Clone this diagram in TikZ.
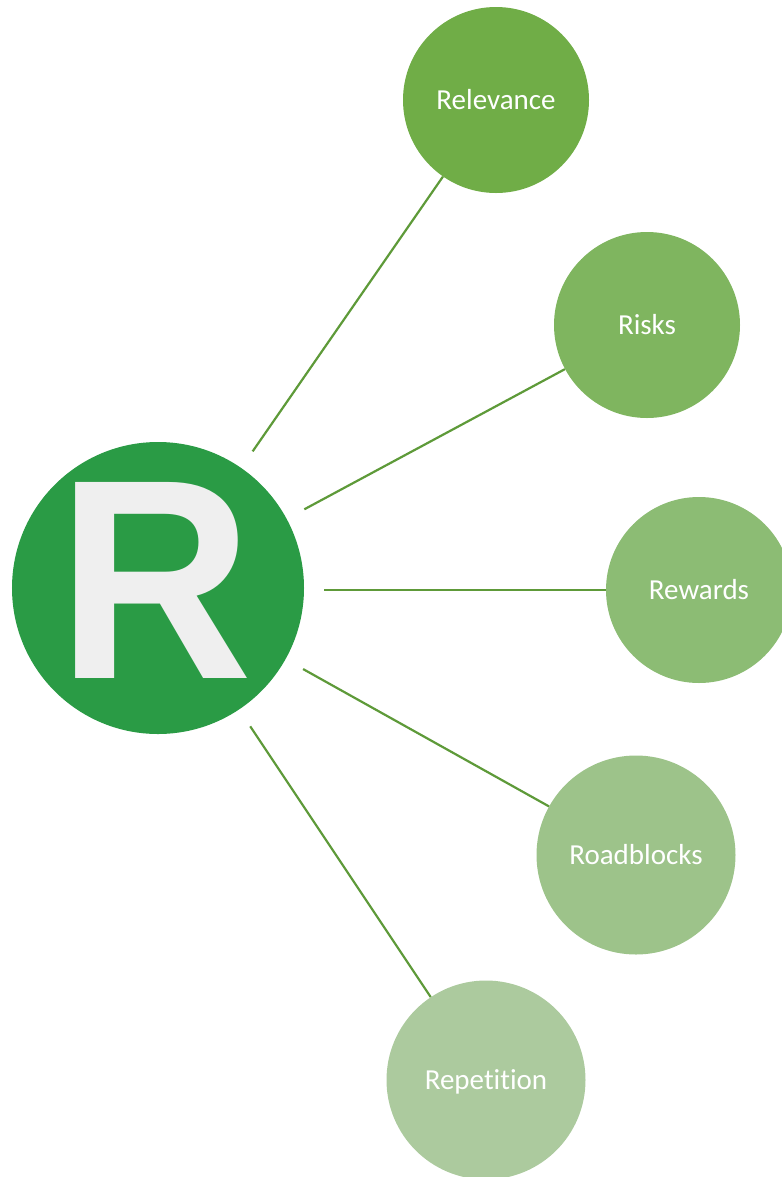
\documentclass[tikz,border=0pt]{standalone}
\usepackage{fontspec}
\setmainfont[Ligatures=NoCommon]{Carlito}
\newfontfamily\letterfont{Liberation Sans}
\usetikzlibrary{positioning}

\definecolor{hubgreen}{RGB}{42,155,69}
\definecolor{spokegreen}{RGB}{94,154,57}
\definecolor{greenA}{RGB}{112,173,71}
\definecolor{greenB}{RGB}{127,181,95}
\definecolor{greenC}{RGB}{140,188,116}
\definecolor{greenD}{RGB}{157,195,138}
\definecolor{greenE}{RGB}{172,202,158}
\definecolor{letter}{RGB}{239,239,239}

\begin{document}
\begin{tikzpicture}[x=1bp,y=-1bp,
  hub/.style={circle,fill=hubgreen,minimum size=292bp,inner sep=0pt},
  leaf/.style={circle,minimum size=186bp,inner sep=0pt,text=white,
    font=\fontsize{29bp}{32bp}\selectfont,text height=18.7bp,text depth=0pt},
  bigleaf/.style={leaf,minimum size=199bp},
  spoke/.style={spokegreen,line width=2.2bp,shorten <=20bp}]
\useasboundingbox (0,0) rectangle (782,1177);
\node [hub] (hub) at (158,588) {};
\node [text=letter,inner sep=0pt,xscale=0.95,
  font=\letterfont\bfseries\fontsize{285bp}{285bp}\selectfont]
  (letterR) at (155.5,580.5) {R};
\node [leaf,fill=greenA] (relevance) at (496,100) {Relevance};
\node [leaf,fill=greenB] (risks) at (647,325) {Risks};
\node [leaf,fill=greenC] (rewards) at (699,590) {Rewards};
\node [bigleaf,fill=greenD] (roadblocks) at (636,855) {Roadblocks};
\node [bigleaf,fill=greenE] (repetition) at (486,1080) {Repetition};
\draw [spoke] (hub) -- (relevance);
\draw [spoke] (hub) -- (risks);
\draw [spoke] (hub.east) ++(0,2) coordinate (hubE) -- (rewards.west);
\draw [spoke] (hub) -- (roadblocks);
\draw [spoke] (hub) -- (repetition);
\end{tikzpicture}
\end{document}
